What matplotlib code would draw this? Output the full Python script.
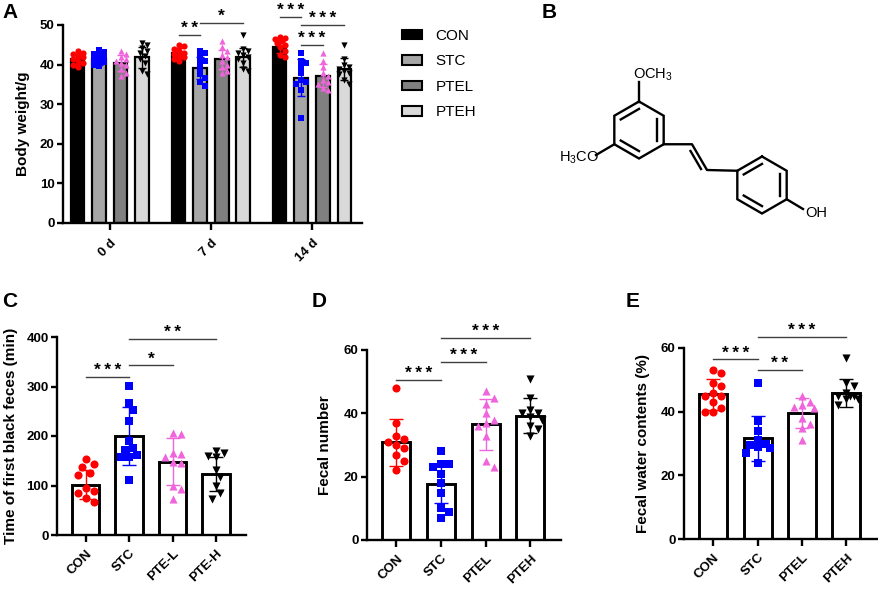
import numpy as np
import matplotlib
matplotlib.use('Agg')
import matplotlib.pyplot as plt
from matplotlib.patches import Patch

plt.rcParams['font.family'] = ['Liberation Sans', 'DejaVu Sans']
plt.rcParams['mathtext.fontset'] = 'custom'
plt.rcParams['mathtext.rm'] = 'Liberation Sans'

# ---------------- data ----------------
groups = ['CON', 'STC', 'PTEL', 'PTEH']
days = ['0 d', '7 d', '14 d']
colors = ['#ff0000', '#0000ff', '#f064dc', '#000000']
markers = ['o', 's', '^', 'v']
bar_fill = ['#000000', '#a6a6a6', '#808080', '#d9d9d9']

# panel A: body weight (g), one list per day
a_con_mean = [41.5, 42.9, 44.5]
a_stc_mean = [41.3, 39.1, 36.7]
a_ptel_mean = [40.5, 41.3, 37.2]
a_pteh_mean = [41.8, 41.8, 38.9]
a_con_sd = [1.3, 1.3, 1.6]
a_stc_sd = [1.3, 2.8, 4.6]
a_ptel_sd = [2.0, 2.5, 2.9]
a_pteh_sd = [2.6, 2.5, 2.7]
a_con_pts = [[43.5, 43.0, 42.6, 42.2, 41.8, 41.5, 41.0, 40.5, 40.0, 39.5],
             [45.0, 44.6, 44.0, 43.5, 43.0, 42.6, 42.2, 41.8, 41.4, 41.0],
             [47.0, 46.8, 46.5, 46.0, 45.5, 45.0, 44.5, 43.5, 42.5, 41.8]]
a_stc_pts = [[43.6, 43.2, 42.8, 42.3, 41.8, 41.4, 41.0, 40.6, 40.0, 39.6],
             [43.5, 43.0, 42.0, 41.0, 40.4, 39.0, 37.5, 36.5, 35.5, 34.5],
             [43.0, 41.0, 40.5, 39.5, 38.0, 36.0, 35.5, 35.0, 33.5, 26.5]]
a_ptel_pts = [[43.5, 42.8, 42.0, 41.5, 41.0, 40.5, 40.0, 39.0, 38.0, 37.2],
              [46.0, 44.5, 43.5, 42.5, 42.0, 41.0, 40.0, 39.5, 38.5, 38.0],
              [43.0, 41.0, 39.5, 38.0, 37.0, 36.0, 35.5, 35.0, 34.0, 33.5]]
a_pteh_pts = [[45.5, 45.0, 44.2, 43.5, 43.0, 42.2, 41.5, 40.5, 38.5, 37.5],
              [47.5, 44.0, 43.5, 43.0, 42.5, 42.0, 41.5, 40.5, 39.0, 38.5],
              [45.0, 41.5, 40.0, 39.5, 39.0, 38.5, 38.0, 37.5, 36.0, 35.0]]
# (day, group i, group j, y, label)
a_sig = [(1, 0, 1, 47.5, '**'), (1, 1, 3, 50.6, '*'),
         (2, 0, 1, 52.1, '***'), (2, 1, 3, 50.0, '***'), (2, 1, 2, 45.0, '***')]

# panel C: time of first black feces (min)
c_labels = ['CON', 'STC', 'PTE-L', 'PTE-H']
c_mean = [102, 200, 148, 123]
c_sd = [30, 58, 47, 35]
c_pts = [[154, 143, 138, 125, 122, 95, 88, 85, 75, 66],
         [301, 266, 252, 230, 190, 176, 172, 162, 158, 157, 112],
         [207, 205, 165, 163, 158, 148, 145, 98, 93, 72],
         [170, 166, 160, 158, 132, 118, 100, 85, 72]]
c_sig = [(0, 1, 319, '***'), (1, 2, 343, '*'), (1, 3, 396, '**')]

# panel D: fecal number
d_labels = ['CON', 'STC', 'PTEL', 'PTEH']
d_mean = [30.8, 17.6, 36.5, 39.2]
d_sd = [7.5, 6.0, 8.0, 5.5]
d_pts = [[48, 37, 33, 32, 31, 30, 29, 27, 25, 22],
         [28, 24, 24, 23, 21, 18, 15, 10, 9, 7],
         [47, 45, 43, 40, 38, 37, 36, 33, 25, 23],
         [51, 45, 41, 40, 40, 39, 38, 36, 35, 33]]
d_sig = [(0, 1, 50.5, '***'), (1, 2, 56.2, '***'), (1, 3, 63.8, '***')]

# panel E: fecal water contents (%)
e_labels = ['CON', 'STC', 'PTEL', 'PTEH']
e_mean = [45.4, 31.6, 39.7, 45.9]
e_sd = [5.0, 7.0, 4.7, 4.5]
e_pts = [[53, 52, 49, 48, 46, 45, 45, 43, 41, 40, 40],
         [49, 37, 34, 31, 30, 29.5, 29, 28.5, 27, 24],
         [45, 43, 42, 41.5, 41, 38, 36, 35, 31],
         [57, 49, 48, 46, 45, 45, 45, 44, 44, 42]]
e_sig = [(0, 1, 56.5, '***'), (1, 2, 53.1, '**'), (1, 3, 63.5, '***')]

# ---------------- figure ----------------
W, H = 879, 590
fig = plt.figure(figsize=(W / 100, H / 100), dpi=100)


def px_axes(x0, x1, ytop, ybot):
    return fig.add_axes([x0 / W, 1 - ybot / H, (x1 - x0) / W, (ybot - ytop) / H])


def style(ax):
    for s in ['top', 'right']:
        ax.spines[s].set_visible(False)
    for s in ['left', 'bottom']:
        ax.spines[s].set_linewidth(1.7)
    ax.tick_params(width=1.7, length=4, labelsize=9.5, pad=2)
    for lab in ax.get_yticklabels():
        lab.set_fontweight('bold')


def swarm(ax, xc, vals, dot_px, max_px):
    # simple beeswarm: offsets in pixels, returned in data units
    vals = np.asarray(vals, float)
    yp = ax.transData.transform(np.column_stack([np.full(len(vals), xc), vals]))[:, 1]
    ppu = ax.transData.transform((1, 0))[0] - ax.transData.transform((0, 0))[0]
    step = dot_px * 0.5
    cands = [0.0]
    k = 1
    while k * step <= max_px:
        cands += [k * step, -k * step]
        k += 1
    placed = []
    offs = np.zeros(len(vals))
    for i in np.argsort(-yp):
        best, bestd = cands[0], -1
        for c in cands:
            d = min([np.hypot(c - ox, yp[i] - oy) for ox, oy in placed] + [1e9])
            if d >= dot_px:
                best = c
                break
            if d > bestd:
                best, bestd = c, d
        offs[i] = best
        placed.append((best, yp[i]))
    return xc + offs / ppu


def sig(ax, x1, x2, y, text, fs=12.5):
    ax.plot([x1, x2], [y, y], color='#404040', lw=1, clip_on=False, zorder=5)
    ax.annotate('\u2009'.join(text), ((x1 + x2) / 2, y), xytext=(0, -1), textcoords='offset points',
                ha='center', va='bottom', fontsize=fs, fontweight='bold',
                annotation_clip=False)


def dot_panel(ax, labels, means, sds, pts, sigs, ylim, yticks, ylabel, lab_x):
    x = np.arange(len(labels))
    ax.set_xlim(-0.66, len(labels) - 0.31)
    ax.set_ylim(*ylim)
    ax.bar(x, means, width=0.63, color='white', edgecolor='black', linewidth=2.1, zorder=1)
    for i in range(len(labels)):
        xs = swarm(ax, x[i], pts[i], 8, 14)
        ax.scatter(xs, pts[i], s=34, marker=markers[i], color=colors[i],
                   linewidths=0, zorder=3, clip_on=False)
        ax.errorbar(x[i], means[i], yerr=sds[i], color=colors[i], lw=1,
                    capsize=5, capthick=1, zorder=4)
    ax.set_yticks(yticks)
    ax.set_xticks(x)
    ax.set_xticklabels(labels, rotation=45, ha='right', rotation_mode='anchor',
                       fontweight='bold', fontsize=10.5)
    style(ax)
    ax.tick_params(axis='x', length=5, pad=4)
    ax.set_ylabel(ylabel, fontsize=11, fontweight='bold')
    ax.yaxis.set_label_coords(lab_x, 0.5)
    for i, j, y, t in sigs:
        sig(ax, x[i], x[j], y, t)


# ---- panel A ----
axA = px_axes(63, 362, 25, 223)
axA.set_xlim(-0.465, 2.495)
axA.set_ylim(0, 50)
bw, sp = 0.134, 0.213
a_means = [a_con_mean, a_stc_mean, a_ptel_mean, a_pteh_mean]
a_sds = [a_con_sd, a_stc_sd, a_ptel_sd, a_pteh_sd]
a_pts = [a_con_pts, a_stc_pts, a_ptel_pts, a_pteh_pts]
dx = np.arange(len(days))
for g in range(4):
    xg = dx + (g - 1.5) * sp
    axA.bar(xg, a_means[g], width=bw, color=bar_fill[g], edgecolor='black',
            linewidth=1.6, zorder=1, label=groups[g])
    for d in range(len(days)):
        xs = swarm(axA, xg[d], a_pts[g][d], 5.0, 5)
        axA.scatter(xs, a_pts[g][d], s=20, marker=markers[g], color=colors[g],
                    linewidths=0, zorder=3)
        axA.errorbar(xg[d], a_means[g][d], yerr=a_sds[g][d], color=colors[g],
                     lw=1, capsize=3, capthick=1, zorder=4)
axA.set_yticks([0, 10, 20, 30, 40, 50])
axA.set_xticks(dx)
axA.set_xticklabels(days, rotation=45, ha='right', rotation_mode='anchor',
                    fontweight='bold', fontsize=10)
style(axA)
axA.tick_params(axis='x', length=5, pad=5)
axA.set_ylabel('Body weight/g', fontsize=11, fontweight='bold')
axA.yaxis.set_label_coords(-0.110, 0.5)
for d, i, j, y, t in a_sig:
    sig(axA, d + (i - 1.5) * sp, d + (j - 1.5) * sp, y, t)

fig.legend([Patch(facecolor=bar_fill[g], edgecolor='black', linewidth=1.5) for g in range(4)],
           groups, loc='upper left', bbox_to_anchor=(402 / W, 1 - 29 / H),
           frameon=False, fontsize=11, handlelength=1.3, handleheight=0.55,
           handletextpad=0.9, labelspacing=0.75, borderaxespad=0, borderpad=0)

# ---- panels C, D, E ----
axC = px_axes(57, 246, 337, 535)
dot_panel(axC, c_labels, c_mean, c_sd, c_pts, c_sig, (0, 400), [0, 100, 200, 300, 400],
          'Time of first black feces (min)', -0.206)
axD = px_axes(367, 561, 350, 540)
dot_panel(axD, d_labels, d_mean, d_sd, d_pts, d_sig, (0, 60), [0, 20, 40, 60],
          'Fecal number', -0.18)
axE = px_axes(684, 877, 348, 539)
dot_panel(axE, e_labels, e_mean, e_sd, e_pts, e_sig, (0, 60), [0, 20, 40, 60],
          'Fecal water contents (%)', -0.176)

# ---- panel B: chemical structure (pixel coordinates) ----
axB = fig.add_axes([0, 0, 1, 1], zorder=-1)
axB.set_xlim(0, W)
axB.set_ylim(H, 0)
axB.axis('off')


def ring(cx, cy, r):
    ang = np.radians([90, 30, -30, -90, -150, 150])
    vx = cx + r * np.cos(ang)
    vy = cy - r * np.sin(ang)
    axB.plot(np.append(vx, vx[0]), np.append(vy, vy[0]), color='black', lw=1.7,
             solid_joinstyle='miter')
    for a, b in [(0, 5), (1, 2), (3, 4)]:
        ix = cx + 0.74 * (vx[[a, b]] - cx)
        iy = cy + 0.74 * (vy[[a, b]] - cy)
        axB.plot(ix, iy, color='black', lw=1.7)
    return vx, vy


r1x, r1y = ring(639, 130, 28.5)
r2x, r2y = ring(762, 185, 28.5)
lk = dict(color='black', lw=1.7)
axB.plot([r1x[0], r1x[0]], [r1y[0], 82], **lk)
axB.plot([r1x[4], 596], [r1y[4], 155], **lk)
axB.plot([r1x[2], 692, 707, r2x[5]], [r1y[2], r1y[2], 170, r2y[5]], **lk)
axB.plot([690.5, 701], [151, 169], **lk)
axB.plot([r2x[2], 803], [r2y[2], 209], **lk)
axB.text(633, 75, 'OCH$_\\mathregular{3}$', fontsize=10.5, ha='left', va='center')
axB.text(599, 158, 'H$_\\mathregular{3}$CO', fontsize=10.5, ha='right', va='center')
axB.text(805, 213, 'OH', fontsize=10.5, ha='left', va='center')

# panel letters
for t, x, y in [('A', 2, 3), ('B', 542, 3), ('C', 2, 292), ('D', 312, 292), ('E', 626, 292)]:
    fig.text(x / W, 1 - y / H, t, fontsize=15, fontweight='bold', ha='left', va='top')

fig.savefig('out.png', dpi=100)
